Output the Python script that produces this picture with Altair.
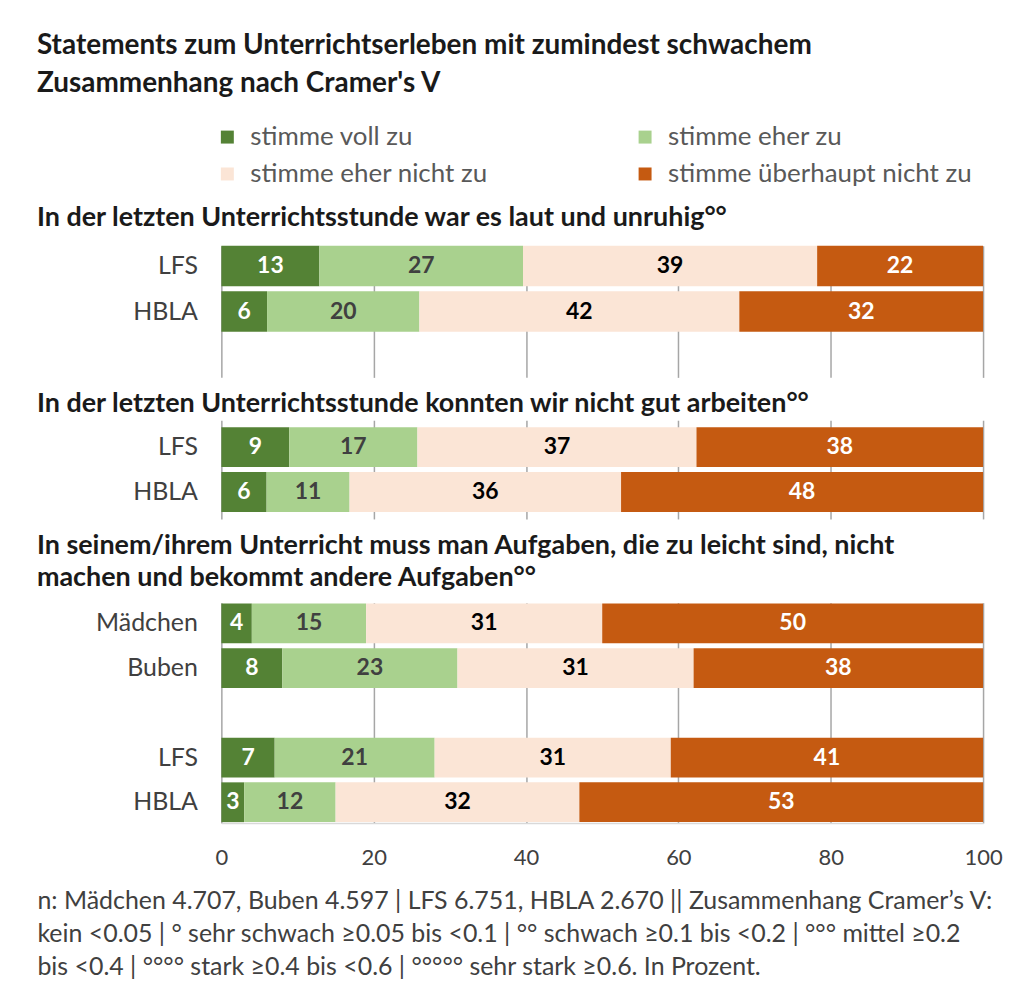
import altair as alt
import pandas as pd

FONT = "Lato"

categories = ["stimme voll zu", "stimme eher zu", "stimme eher nicht zu", "stimme überhaupt nicht zu"]
bar_colors = ["#548235", "#a9d18e", "#fbe5d6", "#c55a11"]
label_colors = ["#ffffff", "#404040", "#000000", "#ffffff"]

main_title = ["Statements zum Unterrichtserleben mit zumindest schwachem",
              "Zusammenhang nach Cramer's V"]

sec1_title = ["In der letzten Unterrichtsstunde war es laut und unruhig°°"]
sec1_groups = ["LFS", "HBLA"]
sec1_values = [[13, 27, 39, 22], [6, 20, 42, 32]]

sec2_title = ["In der letzten Unterrichtsstunde konnten wir nicht gut arbeiten°°"]
sec2_groups = ["LFS", "HBLA"]
sec2_values = [[9, 17, 37, 38], [6, 11, 36, 48]]

sec3_title = ["In seinem/ihrem Unterricht muss man Aufgaben, die zu leicht sind, nicht",
              "machen und bekommt andere Aufgaben°°"]
sec3_groups = ["Mädchen", "Buben", "LFS", "HBLA"]
sec3_values = [[4, 15, 31, 50], [8, 23, 31, 38], [7, 21, 31, 41], [3, 12, 32, 53]]

x_ticks = [0, 20, 40, 60, 80, 100]

footnote = ["n: Mädchen 4.707, Buben 4.597 | LFS 6.751, HBLA 2.670 || Zusammenhang Cramer’s V:",
            "kein <0.05 | ° sehr schwach ≥0.05 bis <0.1 | °° schwach ≥0.1 bis <0.2 | °°° mittel ≥0.2",
            "bis <0.4 | °°°° stark ≥0.4 bis <0.6 | °°°°° sehr stark ≥0.6. In Prozent."]

PLOT_W = 764


def make_df(groups, values):
    rows = []
    for g, vals in zip(groups, values):
        for i, (c, v) in enumerate(zip(categories, vals)):
            rows.append({"group": g, "category": c, "value": v, "order": i,
                         "tcolor": label_colors[i]})
    return pd.DataFrame(rows)


def panel(groups, values, domain, height, title_lines, title_offset, pad_outer=0.0, last=False):
    df = make_df(groups, values)
    base = alt.Chart(df)
    if last:
        x_axis = alt.Axis(values=[t / 100 for t in x_ticks], labelExpr="round(datum.value*100)",
                          grid=True, gridColor="#a6a6a6", gridWidth=1.5, ticks=False,
                          domain=True, domainColor="#d9d9d9", domainWidth=1.5,
                          labelFontSize=22, labelColor="#404040", labelPadding=25,
                          labelFlush=False, labelOverlap=False, labelFont=FONT,
                          title=footnote, titleX=-185, titleY=66, titleAlign="left",
                          titleAnchor="start", titleBaseline="top", titleFontSize=25,
                          titleFontWeight="normal", titleColor="#404040",
                          titleLineHeight=33, titleFont=FONT)
    else:
        x_axis = alt.Axis(values=[t / 100 for t in x_ticks], grid=True, gridColor="#a6a6a6",
                          gridWidth=1.5, ticks=False, labels=False, domain=False, title=None)
    y_axis = alt.Axis(title=None, ticks=False, domain=False, labelFontSize=25,
                      labelColor="#404040", labelPadding=24, labelFont=FONT)
    y_scale = alt.Scale(domain=domain, paddingInner=0.11, paddingOuter=pad_outer)
    bars = base.mark_bar().encode(
        x=alt.X("value:Q", stack="normalize", scale=alt.Scale(domain=[0, 1], nice=False), axis=x_axis),
        y=alt.Y("group:N", scale=y_scale, axis=y_axis),
        color=alt.Color("category:N", scale=alt.Scale(domain=categories, range=bar_colors),
                        legend=alt.Legend(orient="none", legendX=-7, legendY=-122, columns=2,
                                          direction="horizontal",
                                          title=None, symbolType="square", symbolSize=169,
                                          symbolStrokeWidth=0, labelFontSize=26,
                                          labelColor="#595959", labelFont=FONT,
                                          labelLimit=0,
                                          labelOffset=10, columnPadding=144, rowPadding=11,
                                          padding=0)),
        order=alt.Order("order:Q"),
    )
    labels = base.transform_stack(
        stack="value", groupby=["group"], as_=["x0", "x1"], offset="normalize",
        sort=[alt.SortField("order", order="ascending")]
    ).transform_calculate(mid="(datum.x0 + datum.x1) / 2").mark_text(
        fontSize=23, fontWeight="bold", font=FONT
    ).encode(
        x=alt.X("mid:Q"),
        y=alt.Y("group:N", scale=y_scale),
        text=alt.Text("value:Q"),
        color=alt.Color("tcolor:N", scale=None),
    )
    return alt.layer(bars, labels).properties(
        width=PLOT_W, height=height,
        title=alt.TitleParams(text=title_lines, anchor="start", frame="group", dx=-185,
                              fontSize=27, fontWeight="bold", color="#1a1a1a", font=FONT,
                              lineHeight=32, offset=title_offset),
    )


p1 = panel(sec1_groups, sec1_values, sec1_groups + [" "], 132, sec1_title, 14)
p2 = panel(sec2_groups, sec2_values, sec2_groups, 99, sec2_title, 2, pad_outer=0.155)
p3 = panel(sec3_groups, sec3_values, ["Mädchen", "Buben", " ", "LFS", "HBLA"], 221, sec3_title, 11,
           pad_outer=0.02, last=True)

chart = alt.vconcat(p1, p2, p3, spacing=13).properties(
    title=alt.TitleParams(text=main_title, anchor="start", fontSize=28, fontWeight="bold",
                          color="#1a1a1a", font=FONT, lineHeight=38, offset=26),
    padding={"left": 29, "top": 23, "right": 0, "bottom": 5},
).configure(font=FONT).configure_view(stroke=None)

chart.save("out.html", embed_options={"renderer": "svg", "actions": False})
